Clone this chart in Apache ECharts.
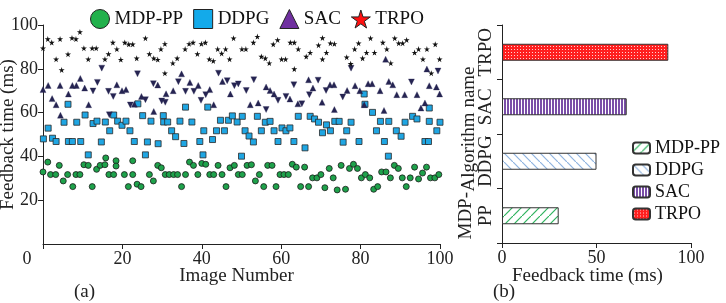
<!DOCTYPE html>
<html>
<head>
<meta charset="utf-8">
<script src="https://cdn.jsdelivr.net/npm/echarts@6/dist/echarts.min.js"></script>
<style>
html,body{margin:0;padding:0;background:#fff;}
#wrap{position:relative;width:726px;height:303px;}
#a,#b{position:absolute;left:0;top:0;width:726px;height:303px;}
</style>
</head>
<body>
<div id="wrap"><div id="a"></div><div id="b"></div></div>
<script>
// ---- data ----
const mdppPoints = [[0,32.9],[1.2,37.4],[1.9,31.7],[3.2,31.7],[4.1,35.9],[5.1,28.8],[6.2,31.7],[7.5,26.2],[8.3,31.7],[9.3,31.7],[10.3,36.2],[11.4,35.9],[12.4,26.2],[13.5,34.1],[14.4,35.9],[15.6,36.2],[15.8,39.3],[16.6,31.7],[17.8,31.7],[18.4,38],[18.4,35.6],[20.5,31.7],[21.5,26.2],[22.6,38],[22.6,31.7],[23.7,27.3],[24.7,26.2],[26.8,31.7],[27.8,28.8],[28.9,35.9],[29.8,34.8],[30.8,31.7],[31.8,31.7],[32.9,31.7],[33.9,31.7],[34.9,26.2],[35.9,31.7],[36.9,37.4],[37.9,35.9],[39,31.7],[40,36.8],[41,36.4],[42,31.7],[43,31.7],[44.1,35.9],[45.1,31.7],[46.1,26.2],[47.1,34.8],[48.2,35.9],[49.2,31.7],[50.2,31.7],[51.4,35.9],[52.5,36.2],[53.5,28.8],[54.5,31.7],[55.6,26.2],[56.6,35.9],[57.7,35.9],[58.7,26.2],[59.7,31.7],[60.7,31.7],[61.8,31.7],[62.8,36.4],[63.8,35.1],[64.9,26.2],[65.9,35.1],[66.9,26.2],[67.9,30.2],[69,30.2],[70,31.7],[71,25.7],[72.1,34.5],[73.1,30.2],[74.1,24.7],[75.1,35.9],[76.2,25],[77.2,34.5],[78.2,36.4],[79.2,34.5],[80.2,30.2],[81.2,31.7],[82.3,30.2],[83.3,25],[84.3,26.2],[85.3,32.9],[86.4,32.9],[87.5,30.2],[88.5,35.9],[89.5,34.5],[90.5,30.2],[91.5,26.2],[92.5,30.2],[93.6,35.1],[94.6,29.7],[95.6,32.4],[96.6,35.1],[97.6,30.2],[98.7,30.2],[99.7,31.7]];

const ddpgPoints = [[0.1,48],[1.3,52.9],[2.4,48.3],[3.3,46.8],[5.3,55.6],[6.3,63.8],[6.4,46.8],[7.4,46.8],[8.5,55.6],[9.5,46.8],[10.6,58.9],[11.4,40.7],[12.6,55],[13.6,56.1],[14.7,46.6],[15.7,55.7],[16.8,51.7],[17.8,58.9],[18.8,56.1],[19.9,54.2],[20.9,56.1],[21.9,51.7],[23,46.8],[23.9,64],[25.1,58.6],[25.8,40.7],[26.3,46.6],[27.2,56.1],[29,45.8],[30.3,58.6],[30.4,55.7],[31.4,55.7],[32.4,51.7],[33.4,49],[34.5,56.1],[35.5,45.9],[35.9,62.5],[37.5,55.7],[39.5,46.8],[40.3,40.7],[40.5,51.7],[41.5,62.5],[42.7,47.7],[43.7,51.7],[44.7,56.5],[45.7,51.7],[46.7,56.5],[47.7,58.5],[48.9,55.7],[50,40.1],[50.2,58.3],[50.9,51.7],[51.9,49.3],[53,46.6],[54,58.3],[55,51.7],[56,55.6],[57.2,56],[58.2,51.7],[59.2,46.8],[60.2,53],[61.2,51.7],[62.2,53],[63.2,46.8],[64.3,58.3],[66,43.9],[67.3,58.3],[68.4,57.1],[69.4,55.6],[70.4,50.8],[71.4,54.4],[72.4,51.7],[73.5,56],[74.6,56],[75.6,46.5],[76.5,51.7],[77.6,55.6],[79.6,46.8],[80.9,68.5],[81.1,63.8],[83,60.1],[84,51.7],[85,56],[86,46.8],[87,40.1],[87.1,56],[89,51.7],[90.2,49.2],[91.2,55.6],[93.1,58.3],[94.2,57.1],[96.2,46.8],[97.1,46.8],[97.3,62.1],[97.3,56],[99.2,51.7],[100,55.6]];

const sacUpPoints = [[0,70.5],[1.3,72.4],[2.3,66.4],[3.3,63.6],[4.3,72.4],[4.4,58.8],[6.4,68.5],[7.4,72.4],[8.4,72.4],[9.4,75.6],[10.5,71.2],[11.5,63.6],[18.6,72.7],[19.9,70],[20.9,70.5],[23,63.8],[24.8,67.4],[27.9,60.5],[28.9,72.6],[31,68.6],[32.8,70],[34.9,77.7],[37,73.8],[39.1,72.4],[42,70.5],[43,63.6],[45.2,74.2],[47.2,68.5],[52.2,63.6],[54.2,64.4],[56.2,71.7],[57.2,70.1],[58.2,68.5],[62.2,66.2],[64.2,64],[66.9,75],[68,71.2],[70.3,64.7],[72.3,72.7],[73.3,72.7],[73.4,61.4],[76.6,70.1],[78.6,72.3],[79.8,70],[80.9,63.6],[81.9,73.2],[82.9,73.2],[84.9,70],[85.9,61],[86.3,84.4],[87.1,74.2],[88.1,72.7],[89.1,68.2],[91.1,68.2],[94.2,68.2],[95.2,62.1],[96.2,64.4],[96.7,79.9],[97.3,72.3],[99.1,71.7],[99.9,68.5]];

const sacDownPoints = [[12.6,69.9],[13.7,73.8],[14.8,80.3],[16.5,69.7],[16.7,59],[17.7,67.4],[22,63.5],[23.8,77.7],[25.8,65.9],[27.8,73.2],[29.9,65.3],[30.8,64.7],[34.1,74.1],[35.9,69.7],[38,69.7],[39.8,65.6],[41,68.2],[44.2,78],[46.4,74.6],[48.2,72.3],[49.2,73.1],[51.2,70.1],[53.1,75],[56.2,61.4],[59.2,65.6],[61.2,67.4],[63.2,72.7],[65.2,64],[67.1,68.2],[69.3,74.8],[71.3,70.1],[75.5,67.1],[77.6,80.3],[92.8,74],[99.5,79]];

const trpoPoints = [[0,89.4],[1.2,93.6],[2.2,92],[3.3,84.4],[4.3,93.6],[4.7,79.5],[6.3,86.7],[7.3,94.1],[8.3,93.6],[9.3,96.8],[10.3,89.4],[11.4,84.4],[12.4,89.4],[13.4,89.4],[15.6,84.4],[16.5,86.8],[17.6,92],[18.6,89],[19.6,84.2],[20.6,92],[21.6,91.2],[22.6,91.2],[23.6,84.8],[25.8,94],[26.8,86.8],[27.9,84.8],[28.9,84.2],[29.7,89],[30.7,91.4],[30.7,78],[32.7,82.6],[33.8,84.8],[35.8,89],[36.8,91.4],[37.8,92],[38.9,86.8],[39.9,91.4],[40.9,92],[41.9,84.4],[42.9,83.6],[44,89],[45,87],[46,89],[47,84.4],[48,94],[50.1,89],[51.1,89],[53,92],[54,94.7],[55,85.6],[56,84.8],[57,82.6],[58,91.2],[59.1,93.2],[60.1,84.4],[61.1,84.4],[62.3,92],[63.3,92],[63.3,79.9],[64.3,89],[66.3,85.6],[67.3,87.4],[69.4,90.8],[70.4,94.1],[70.4,84.4],[71.4,87.4],[72.4,91.7],[73.4,91.4],[76.5,85.3],[77.5,82.3],[78.5,89],[79.5,91.7],[80.5,84.8],[81.5,87.4],[82.5,94],[83.5,87.4],[85.6,92],[86.6,89],[87.6,82.6],[88.6,94],[89.6,91.7],[90.6,91.7],[91.6,93.2],[93.6,87.4],[94.6,89],[95.7,84.4],[96.7,89],[97.8,78],[98.8,91.2],[99.9,84.4]];

const algorithms = ['MDP-PP', 'DDPG', 'SAC', 'TRPO'];
const feedbackTimes = [30, 50, 66, 88];

// ---- styling ----
const FONT = 'Liberation Serif';
const STAR = 'path://M50,0 L61,35 L98,35 L68,57 L79,91 L50,70 L21,91 L32,57 L2,35 L39,35 Z';
const axisCommon = {
  axisLine: {show: true, lineStyle: {color: '#222', width: 1}},
  axisTick: {show: true, inside: false, length: 5, lineStyle: {color: '#222'}},
  splitLine: {show: false},
  axisLabel: {color: '#222', fontFamily: FONT, fontSize: 18}
};

function pattern(w, h, draw) {
  const c = document.createElement('canvas');
  c.width = w; c.height = h;
  const g = c.getContext('2d');
  draw(g, w, h);
  return {image: c, repeat: 'repeat'};
}
const patMDP = pattern(9, 9, (g, w, h) => {
  g.fillStyle = '#fff'; g.fillRect(0, 0, w, h);
  g.strokeStyle = '#2fb35e'; g.lineWidth = 1.2;
  g.beginPath(); g.moveTo(-1, h + 1); g.lineTo(w + 1, -1); g.stroke();
});
const patDDPG = pattern(9, 9, (g, w, h) => {
  g.fillStyle = '#fff'; g.fillRect(0, 0, w, h);
  g.strokeStyle = '#8fb3df'; g.lineWidth = 1.2;
  g.beginPath(); g.moveTo(-1, -1); g.lineTo(w + 1, h + 1); g.stroke();
});
const patSAC = pattern(3, 4, (g, w, h) => {
  g.fillStyle = '#fff'; g.fillRect(0, 0, w, h);
  g.fillStyle = '#7a4ea8'; g.fillRect(0, 0, 2, h);
});
const patTRPO = pattern(3, 3, (g, w, h) => {
  g.fillStyle = '#ff1f1f'; g.fillRect(0, 0, w, h);
  g.fillStyle = '#ffd0d0'; g.fillRect(1, 1, 1, 1);
});
const barPatterns = [patMDP, patDDPG, patSAC, patTRPO];

// ---- left chart (a) ----
const chartA = echarts.init(document.getElementById('a'), null, {renderer: 'canvas'});
chartA.setOption({
  animation: false,
  backgroundColor: 'transparent',
  grid: {left: 43, top: 25, width: 397, height: 219, containLabel: false, outerBoundsMode: 'none'},
  legend: {
    left: 85, top: 4, itemWidth: 19, itemHeight: 19, itemGap: 10,
    textStyle: {fontFamily: FONT, fontSize: 19, color: '#111'},
    data: [
      {name: 'MDP-PP', icon: 'circle', itemStyle: {color: '#22b14c', borderColor: '#222', borderWidth: 1}},
      {name: 'DDPG', icon: 'rect', itemStyle: {color: '#13aaea', borderColor: '#222', borderWidth: 1}},
      {name: 'SAC', icon: 'triangle', itemStyle: {color: '#7030a0', borderColor: '#222', borderWidth: 1}},
      {name: 'TRPO', icon: STAR, itemStyle: {color: '#ff1010', borderColor: '#222', borderWidth: 1}}
    ]
  },
  xAxis: Object.assign({}, axisCommon, {
    type: 'value', min: 0, max: 100, interval: 20,
    name: 'Image Number', nameLocation: 'middle', nameGap: 23, nameMoveOverlap: false,
    nameTextStyle: {fontFamily: FONT, fontSize: 19, color: '#222', padding: [0, 10, 0, 0]},
    axisLabel: Object.assign({}, axisCommon.axisLabel, {
      margin: 6,
      formatter: v => v === 0 ? '{z|0}' : String(v),
      rich: {z: {fontFamily: FONT, fontSize: 18, color: '#222', padding: [0, 32, 0, 0]}}
    })
  }),
  yAxis: Object.assign({}, axisCommon, {
    type: 'value', min: 0, max: 100, interval: 20,
    name: 'Feedback time (ms)', nameLocation: 'middle', nameGap: 25, nameMoveOverlap: false,
    nameTextStyle: {fontFamily: FONT, fontSize: 19, color: '#222'},
    axisLabel: Object.assign({}, axisCommon.axisLabel, {margin: 5, showMinLabel: false,
      formatter: v => v === 0 ? '' : String(v)})
  }),
  series: [
    {name: 'MDP-PP', type: 'scatter', data: mdppPoints, symbol: 'circle', symbolSize: 6,
     itemStyle: {color: '#1ea24b', borderColor: '#1a1a1a', borderWidth: 0.8, opacity: 1}},
    {name: 'DDPG', type: 'scatter', data: ddpgPoints, symbol: 'rect', symbolSize: 6,
     itemStyle: {color: '#1fa6e3', borderColor: '#2a2a2a', borderWidth: 0.8, opacity: 1}},
    {name: 'SAC', type: 'scatter', data: sacUpPoints, symbol: 'triangle', symbolSize: 6,
     itemStyle: {color: '#262452', borderColor: '#262452', borderWidth: 0.3, opacity: 1}},
    {name: 'SAC', type: 'scatter', data: sacDownPoints, symbol: 'triangle', symbolRotate: 180, symbolSize: 6,
     itemStyle: {color: '#262452', borderColor: '#262452', borderWidth: 0.3, opacity: 1}},
    {name: 'TRPO', type: 'scatter', data: trpoPoints, symbol: STAR, symbolSize: 6,
     itemStyle: {color: '#111', opacity: 1}}
  ],
  graphic: [
    {type: 'text', left: 74, top: 283, style: {text: '(a)', font: '19px "Liberation Serif"', fill: '#222'}}
  ]
});

// ---- right chart (b) ----
const chartB = echarts.init(document.getElementById('b'), null, {renderer: 'canvas'});
chartB.setOption({
  animation: false,
  backgroundColor: 'transparent',
  grid: {left: 502, top: 25, width: 189, height: 218, containLabel: false, outerBoundsMode: 'none'},
  legend: {
    orient: 'vertical', left: 627, top: 134, itemWidth: 17, itemHeight: 11, itemGap: 4,
    textStyle: {fontFamily: FONT, fontSize: 18, color: '#111'},
    data: algorithms
  },
  xAxis: Object.assign({}, axisCommon, {
    type: 'value', min: 0, max: 100, interval: 50,
    name: 'Feedback time (ms)', nameLocation: 'middle', nameGap: 24, nameMoveOverlap: false,
    nameTextStyle: {fontFamily: FONT, fontSize: 19, color: '#222', padding: [0, 18, 0, 0]},
    axisLabel: Object.assign({}, axisCommon.axisLabel, {margin: 6})
  }),
  yAxis: Object.assign({}, axisCommon, {
    type: 'category', data: algorithms, boundaryGap: true,
    name: 'Algorithm name', nameLocation: 'middle', nameGap: 23, nameRotate: 90, nameMoveOverlap: false,
    nameTextStyle: {fontFamily: FONT, fontSize: 19, color: '#222', padding: [0, 0, 0, 10]},
    axisLabel: Object.assign({}, axisCommon.axisLabel, {
      rotate: 90, margin: 6, fontSize: 19, lineHeight: 20, interval: 0, hideOverlap: false,
      formatter: v => v === 'MDP-PP' ? 'MDP-\nPP' : v
    })
  }),
  series: algorithms.map((name, i) => ({
    name: name, type: 'bar', barWidth: 17, barGap: '-100%',
    data: algorithms.map((_, j) => j === i ? feedbackTimes[i] : null),
    itemStyle: {color: barPatterns[i], borderColor: '#333', borderWidth: 1}
  })),
  graphic: [
    {type: 'text', left: 493, top: 283, style: {text: '(b)', font: '19px "Liberation Serif"', fill: '#222'}}
  ]
});
</script>
</body>
</html>
